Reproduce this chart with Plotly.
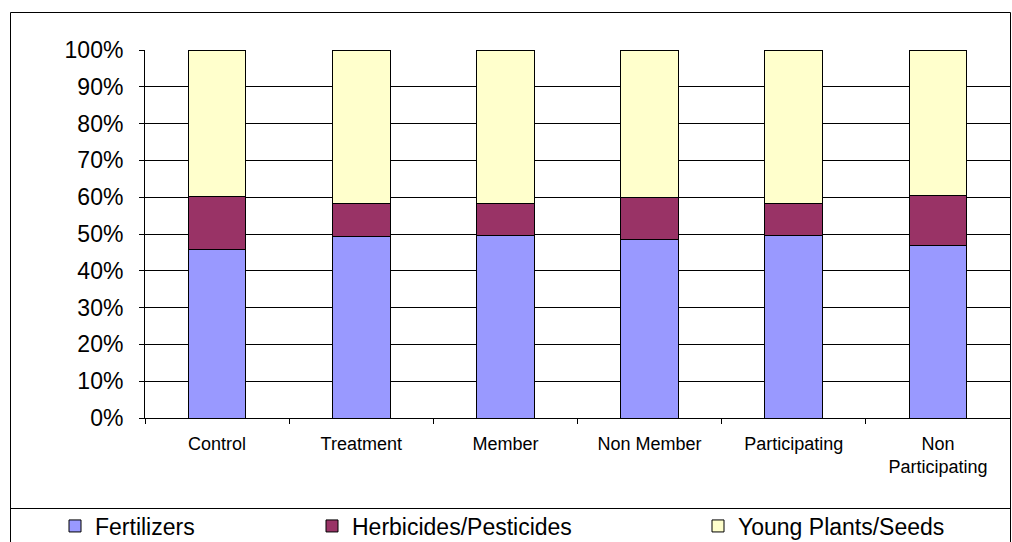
import plotly.graph_objects as go

categories = ["Control", "Treatment", "Member", "Non Member", "Participating", "Non<br>Participating"]
fertilizers = [45.7, 49.3, 49.5, 48.6, 49.5, 46.8]
herbicides = [14.5, 9.1, 8.9, 11.2, 8.9, 13.7]
young_plants = [39.8, 41.6, 41.6, 40.2, 41.6, 39.5]
y_ticks = [0, 10, 20, 30, 40, 50, 60, 70, 80, 90, 100]
y_tick_labels = [f"{v}%" for v in y_ticks]

FONT = "Liberation Sans, Arial, sans-serif"

fig = go.Figure()
series = [
    ("Fertilizers", fertilizers, "#9999FF", "legend"),
    ("Herbicides/Pesticides", herbicides, "#993366", "legend2"),
    ("Young Plants/Seeds", young_plants, "#FFFFCC", "legend3"),
]
for name, vals, color, leg in series:
    fig.add_trace(go.Bar(
        x=categories, y=vals, name=name,
        marker=dict(color=color, line=dict(color="black", width=1)),
        legend=leg, showlegend=True,
    ))

W, H = 1012, 542
L, R, T, B = 145, 2, 50, 124
pw, ph = W - L - R, H - T - B

def px(xs):
    return (xs - L) / pw

def py(ys):
    return (H - B - ys) / ph

def cx(xs):
    return xs / W

def cy(ys):
    return 1 - ys / H

leg_common = dict(orientation="h", xanchor="left", yanchor="middle",
                  xref="container", yref="container",
                  font=dict(family=FONT, size=23, color="black"),
                  bgcolor="rgba(0,0,0,0)", borderwidth=0, itemwidth=30)

fig.update_layout(
    width=W, height=H,
    margin=dict(l=L, r=R, t=T, b=B),
    barmode="stack", bargap=0.6,
    showlegend=True,
    plot_bgcolor="white", paper_bgcolor="white",
    font=dict(family=FONT, color="black"),
    legend=dict(x=cx(55), y=cy(526), **leg_common),
    legend2=dict(x=cx(312), y=cy(526), **leg_common),
    legend3=dict(x=cx(698), y=cy(526), **leg_common),
    xaxis=dict(
        type="category", showline=True, linecolor="black", linewidth=1,
        ticks="outside", tickson="boundaries", ticklen=5, tickcolor="black",
        tickfont=dict(family=FONT, size=18, color="black"),
        showgrid=False, ticklabelstandoff=9,
    ),
    yaxis=dict(
        range=[0, 100], tickvals=y_ticks, ticktext=y_tick_labels,
        showline=True, linecolor="black", linewidth=1,
        ticks="outside", ticklen=5, tickcolor="black",
        showgrid=True, gridcolor="black", gridwidth=1,
        tickfont=dict(family=FONT, size=23, color="black"),
        ticklabelstandoff=11, zeroline=False,
    ),
    shapes=[
        dict(type="rect", xref="paper", yref="paper",
             x0=px(10.5), x1=px(1010.5), y0=py(560), y1=py(12.5),
             line=dict(color="black", width=1), fillcolor="rgba(0,0,0,0)", layer="below"),
        dict(type="line", xref="paper", yref="paper",
             x0=px(10.5), x1=px(1010.5), y0=py(508.5), y1=py(508.5),
             line=dict(color="black", width=1)),
    ],
)

fig.write_html(
    "out.html",
    config={"displayModeBar": False},
    post_script=("document.documentElement.style.margin='0';"
                 "document.body.style.margin='0';"
                 "document.documentElement.style.overflow='hidden';"
                 "document.body.style.overflow='hidden';"),
)
